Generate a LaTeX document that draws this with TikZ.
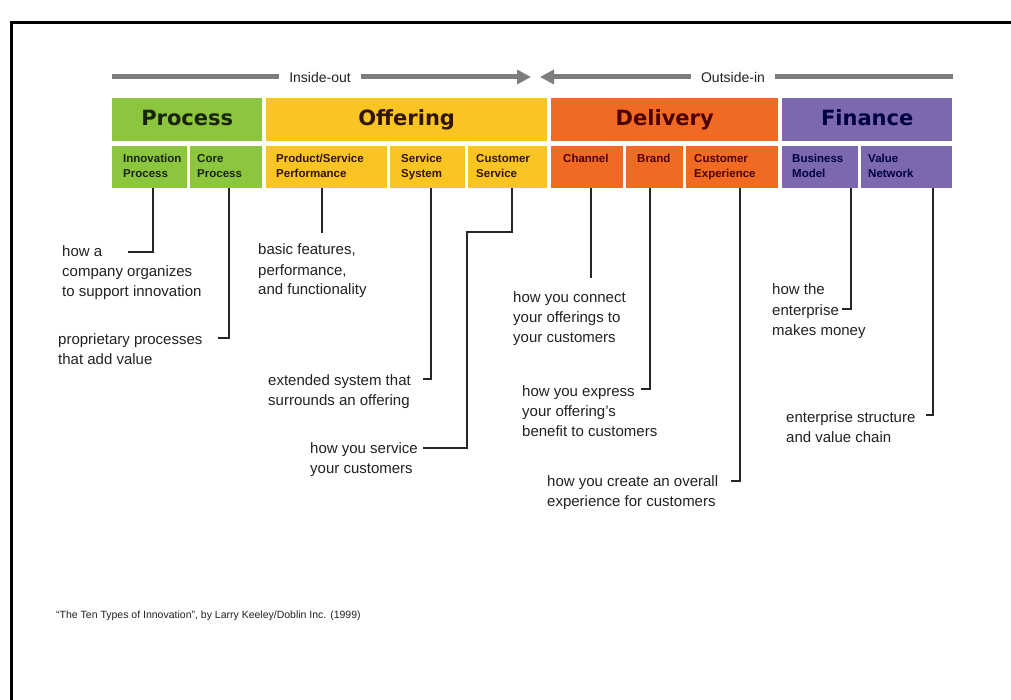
\documentclass[tikz,border=0pt]{standalone}
\usepackage{fontspec}
\setmainfont{Liberation Sans}
\newfontfamily\hdrfont{DejaVu Sans}
\usetikzlibrary{arrows.meta}
\definecolor{cgreen}{RGB}{140,198,63}
\definecolor{cyellow}{RGB}{250,196,34}
\definecolor{corange}{RGB}{241,106,36}
\definecolor{cpurple}{RGB}{124,104,174}
\definecolor{bandgray}{RGB}{125,125,125}
\definecolor{labc}{RGB}{34,34,34}
\colorlet{tgreen}{black!82!cgreen}
\colorlet{tyellow}{black!80!corange}
\colorlet{torange}{black!70!red}
\colorlet{tpurple}{black!75!blue}
\begin{document}
\begin{tikzpicture}[x=1pt,y=-1pt,
  hdr/.style={minimum height=43, anchor=north west, inner sep=0,
    text height=15.5pt, text depth=4.5pt,
    font=\hdrfont\bfseries\fontsize{21}{24}\selectfont},
  subbox/.style={minimum height=42, anchor=north west, inner sep=0},
  subtxt/.style={anchor=base west, align=left, inner sep=0,
    font=\bfseries\fontsize{11.5}{15}\selectfont},
  lab/.style={anchor=base west, align=left, inner sep=0, text=labc,
    font=\fontsize{15}{20}\selectfont},
  conn/.style={line width=1.6pt, black!85},
  band/.style={line width=5pt, bandgray},
  bandtip/.style={-{Triangle[length=14pt,width=14pt]}},
  arrtxt/.style={inner xsep=10pt, inner ysep=2pt, text=labc,
    font=\fontsize{14}{16}\selectfont}
]
\useasboundingbox (0,0) rectangle (1011,700);
\fill[white] (0,0) rectangle (1011,700);
\draw[line width=3pt] (11,701) -- (11,23) -- (1012,23);

% direction band
\node[arrtxt] (io) at (320,77) {Inside-out};
\node[arrtxt] (oi) at (733,77) {Outside-in};
\coordinate (a1) at (112,77);
\coordinate (a2) at (531,77);
\coordinate (a3) at (540,77);
\coordinate (a4) at (953,77);
\draw[band] (a1) -- (io.west);
\draw[band, bandtip] (io.east) -- (a2);
\draw[band, bandtip] (oi.west) -- (a3);
\draw[band] (oi.east) -- (a4);

% headers
\node[hdr, fill=cgreen, minimum width=150, text=tgreen] (process) at (112,98) {Process};
\node[hdr, fill=cyellow, minimum width=281, text=tyellow] (offering) at (266,98) {Offering};
\node[hdr, fill=corange, minimum width=227, text=torange] (delivery) at (551,98) {Delivery};
\node[hdr, fill=cpurple, minimum width=170, text=tpurple] (finance) at (782,98) {Finance};

% sub boxes
\node[subbox, fill=cgreen, minimum width=75] (ip) at (112,146) {};
\node[subbox, fill=cgreen, minimum width=72] (cp) at (190,146) {};
\node[subbox, fill=cyellow, minimum width=121] (psp) at (266,146) {};
\node[subbox, fill=cyellow, minimum width=75] (ss) at (390,146) {};
\node[subbox, fill=cyellow, minimum width=79] (cs) at (468,146) {};
\node[subbox, fill=corange, minimum width=72] (ch) at (551,146) {};
\node[subbox, fill=corange, minimum width=57] (br) at (626,146) {};
\node[subbox, fill=corange, minimum width=92] (ce) at (686,146) {};
\node[subbox, fill=cpurple, minimum width=76] (bm) at (782,146) {};
\node[subbox, fill=cpurple, minimum width=91] (vn) at (861,146) {};

% (base anchor of a multi-line node = baseline of its last line)
\node[subtxt, text=tgreen] (ipt) at ([xshift=11pt,yshift=-31.5pt]ip.north west) {Innovation\\Process};
\node[subtxt, text=tgreen] (cpt) at ([xshift=7pt,yshift=-31.5pt]cp.north west) {Core\\Process};
\node[subtxt, text=tyellow] (pspt) at ([xshift=10pt,yshift=-31.5pt]psp.north west) {Product/Service\\Performance};
\node[subtxt, text=tyellow] (sst) at ([xshift=11pt,yshift=-31.5pt]ss.north west) {Service\\System};
\node[subtxt, text=tyellow] (cst) at ([xshift=8pt,yshift=-31.5pt]cs.north west) {Customer\\Service};
\node[subtxt, text=torange] (cht) at ([xshift=12pt,yshift=-16.5pt]ch.north west) {Channel};
\node[subtxt, text=torange] (brt) at ([xshift=11pt,yshift=-16.5pt]br.north west) {Brand};
\node[subtxt, text=torange] (cet) at ([xshift=8pt,yshift=-31.5pt]ce.north west) {Customer\\Experience};
\node[subtxt, text=tpurple] (bmt) at ([xshift=10pt,yshift=-31.5pt]bm.north west) {Business\\Model};
\node[subtxt, text=tpurple] (vnt) at ([xshift=7pt,yshift=-31.5pt]vn.north west) {Value\\Network};

% labels (positioned by the baseline of their last line)
\node[lab] (l1) at (62,297) {how a\\company organizes\\to support innovation};
\node[lab] (l2) at (58,364) {proprietary processes\\that add value};
\node[lab] (l3) at (258,295) {basic features,\\performance,\\and functionality};
\node[lab] (l4) at (268,405) {extended system that\\surrounds an offering};
\node[lab] (l5) at (310,473) {how you service\\your customers};
\node[lab] (l6) at (513,342) {how you connect\\your offerings to\\your customers};
\node[lab] (l7) at (522,436) {how you express\\your offering’s\\benefit to customers};
\node[lab] (l8) at (547,506) {how you create an overall\\experience for customers};
\node[lab] (l9) at (772,335) {how the\\enterprise\\makes money};
\node[lab] (l10) at (786,442) {enterprise structure\\and value chain};

% connector ends
\coordinate (e1) at (128,252);
\coordinate (e2) at (218,338);
\coordinate (e3) at (322,233);
\coordinate (e4) at (423,379);
\coordinate (c5) at (467,232);
\coordinate (e5) at (423,448);
\coordinate (e6) at (591,278);
\coordinate (e7) at (641,389);
\coordinate (e8) at (731,481);
\coordinate (e9) at (842,309);
\coordinate (e10) at (926,415);

\draw[conn] ([xshift=41pt]ip.south west) |- (e1);
\draw[conn] ([xshift=39pt]cp.south west) |- (e2);
\draw[conn] ([xshift=56pt]psp.south west) -- (e3);
\draw[conn] ([xshift=41pt]ss.south west) |- (e4);
\draw[conn] ([xshift=44pt]cs.south west) |- (c5) |- (e5);
\draw[conn] ([xshift=40pt]ch.south west) -- (e6);
\draw[conn] ([xshift=24pt]br.south west) |- (e7);
\draw[conn] ([xshift=54pt]ce.south west) |- (e8);
\draw[conn] ([xshift=69pt]bm.south west) |- (e9);
\draw[conn] ([xshift=72pt]vn.south west) |- (e10);

% source
\node[anchor=west, inner sep=0, text=labc, font=\fontsize{10.5}{12}\selectfont] (src) at (56,616)
  {“The Ten Types of Innovation”, by Larry Keeley/Doblin Inc. (1999)};
\end{tikzpicture}
\end{document}
